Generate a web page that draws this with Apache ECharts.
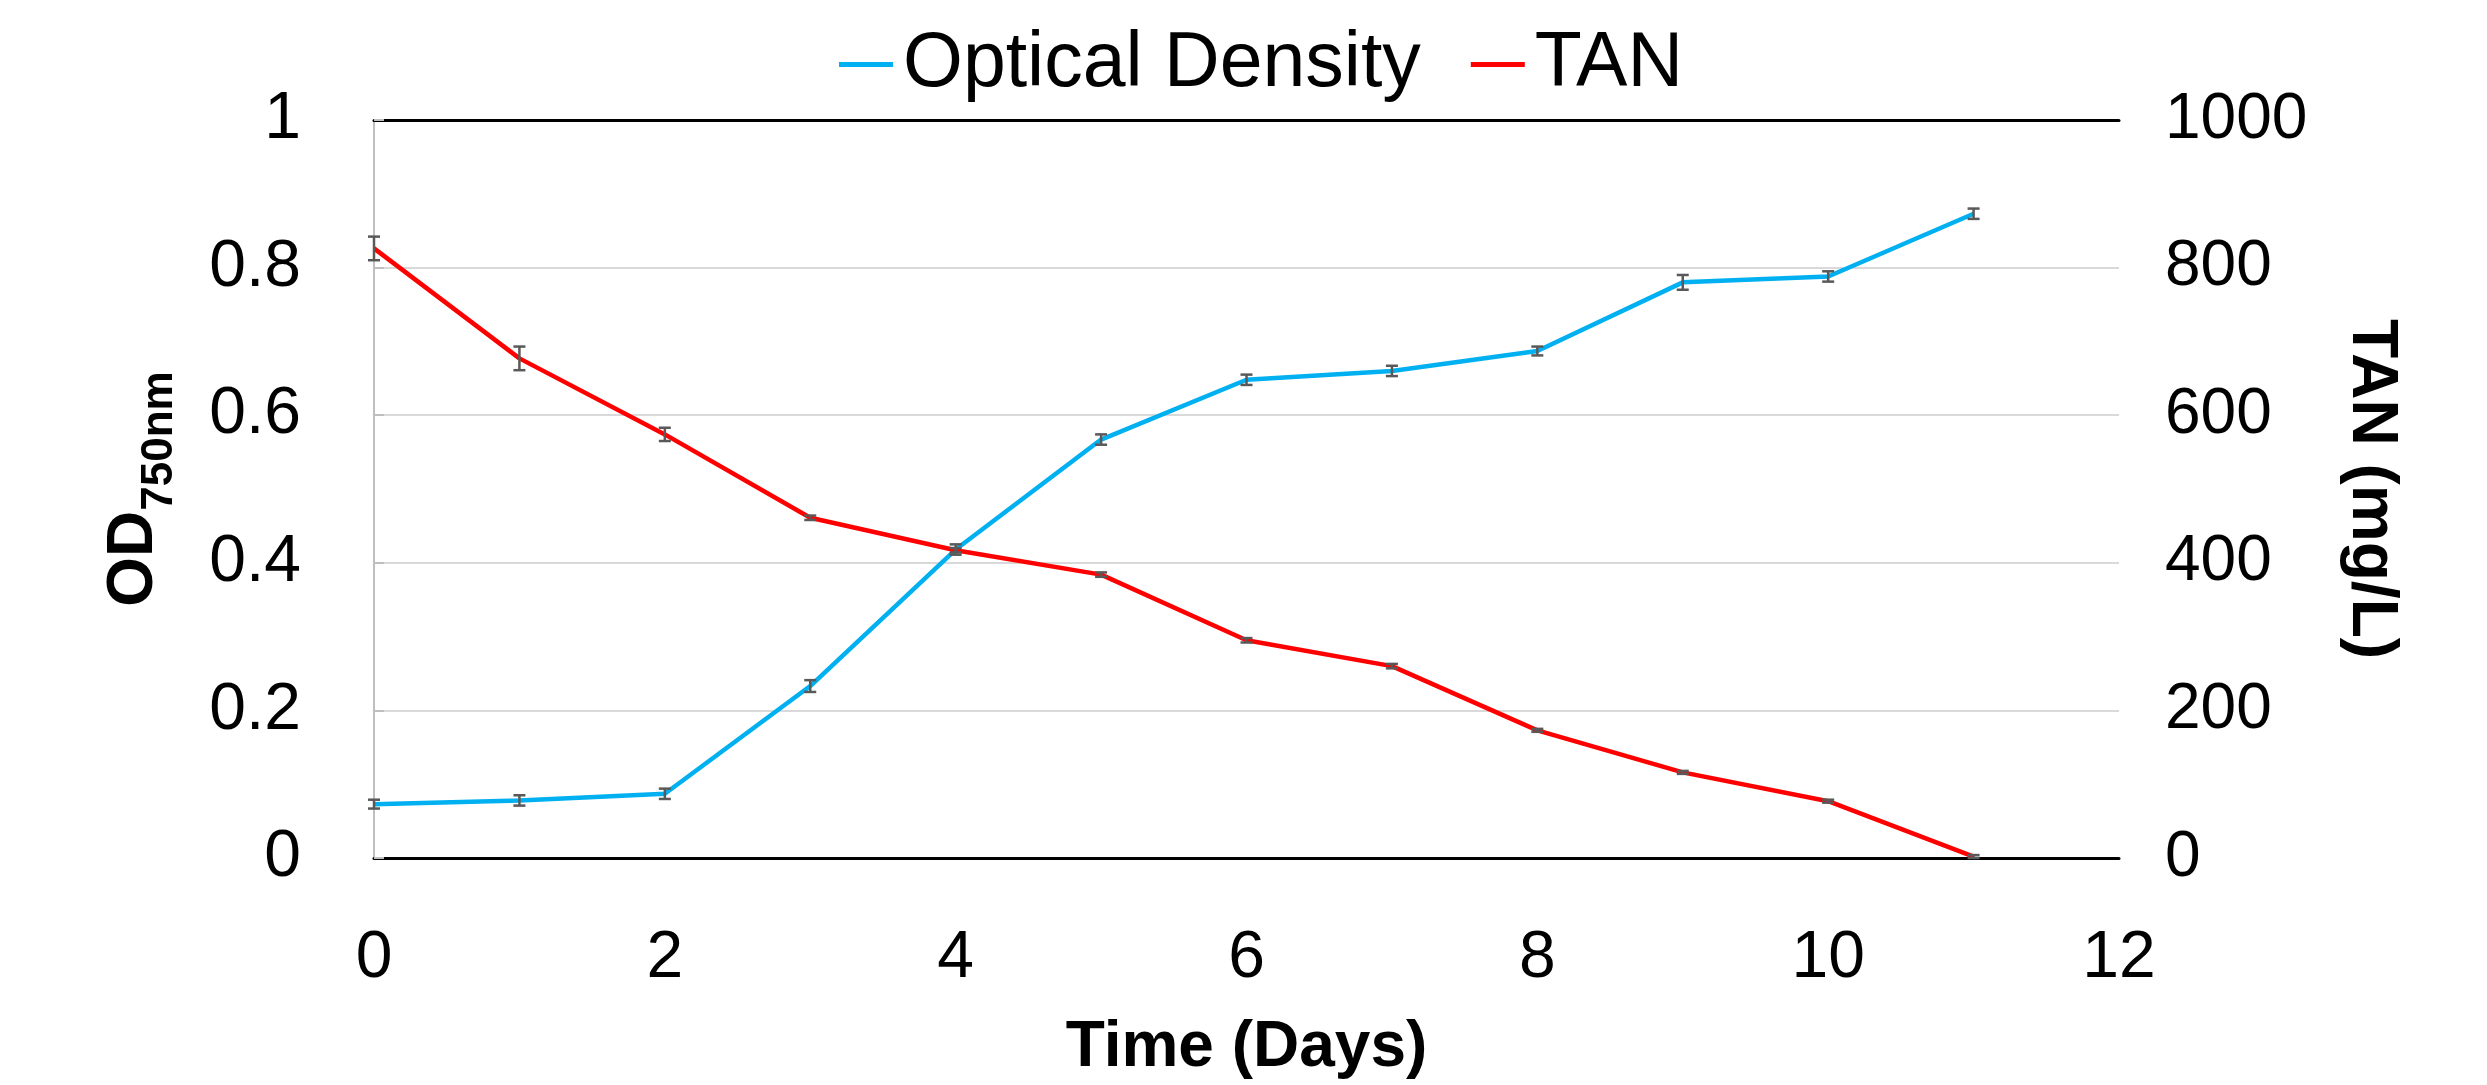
<!DOCTYPE html>
<html>
<head>
<meta charset="utf-8">
<script src="https://cdn.jsdelivr.net/npm/echarts@6/dist/echarts.min.js"></script>
<style>
  html, body { margin: 0; padding: 0; background: #fff; }
  #chart { width: 2487px; height: 1085px; }
</style>
</head>
<body>
<div id="chart"></div>
<script>
// Growth curve: optical density vs. total ammonia nitrogen over time

const days = [0, 1, 2, 3, 4, 5, 6, 7, 8, 9, 10, 11];
const odValues = [0.073, 0.078, 0.087, 0.233, 0.418, 0.567, 0.648, 0.660, 0.687, 0.780, 0.788, 0.873];
const odErrors = [0.006, 0.007, 0.007, 0.008, 0.007, 0.007, 0.007, 0.007, 0.006, 0.010, 0.007, 0.007];
const tanValues = [826, 677, 574, 461, 417, 384, 295, 260, 173, 116, 77, 2];
const tanErrors = [16, 16, 9, 3, 3, 3, 3, 3, 2, 2, 2, 2];
const xTicks = [0, 2, 4, 6, 8, 10, 12];
const odTicks = [0, 0.2, 0.4, 0.6, 0.8, 1];
const tanTicks = [0, 200, 400, 600, 800, 1000];

const FONT = '"Liberation Sans", Arial, sans-serif';
const chart = echarts.init(document.getElementById('chart'));

const odData = days.map((d, i) => [d, odValues[i]]);
const tanData = days.map((d, i) => [d, tanValues[i]]);
const odErrData = days.map((d, i) => [d, odValues[i] - odErrors[i], odValues[i] + odErrors[i]]);
const tanErrData = days.map((d, i) => [d, tanValues[i] - tanErrors[i], tanValues[i] + tanErrors[i]]);

// vertical whisker with caps
function renderError(params, api) {
  const x = api.value(0);
  const lo = api.coord([x, api.value(1)]);
  const hi = api.coord([x, api.value(2)]);
  const w = 6;
  const style = { stroke: '#595959', lineWidth: 2.5 };
  return {
    type: 'group',
    children: [
      { type: 'line', shape: { x1: lo[0], y1: lo[1], x2: hi[0], y2: hi[1] }, style },
      { type: 'line', shape: { x1: lo[0] - w, y1: lo[1], x2: lo[0] + w, y2: lo[1] }, style },
      { type: 'line', shape: { x1: hi[0] - w, y1: hi[1], x2: hi[0] + w, y2: hi[1] }, style }
    ]
  };
}

const option = {
  animation: false,
  backgroundColor: '#ffffff',
  textStyle: { fontFamily: FONT },
  legend: {
    top: 26,
    left: 839,
    padding: 0,
    data: [
      { name: 'Optical Density', icon: 'rect' },
      { name: 'TAN', icon: 'rect' }
    ],
    itemWidth: 54,
    itemHeight: 5,
    itemGap: 50,
    textStyle: { fontSize: 77, color: '#000', fontFamily: FONT, padding: [0, 0, 0, 5] }
  },
  grid: { left: 374, right: 368, top: 120, bottom: 225 },
  xAxis: [
    {
      type: 'value',
      min: xTicks[0],
      max: xTicks[xTicks.length - 1],
      interval: 2,
      name: 'Time (Days)',
      nameLocation: 'middle',
      nameGap: 158,
      nameTextStyle: { fontSize: 64, fontWeight: 'bold', color: '#000', fontFamily: FONT },
      axisLine: { show: true, lineStyle: { color: '#000', width: 3 } },
      axisTick: { show: false },
      splitLine: { show: false },
      axisLabel: { fontSize: 66, color: '#000', margin: 68, fontFamily: FONT }
    },
    {
      type: 'value',
      position: 'top',
      min: 0,
      max: 12,
      axisLine: { show: true, onZero: false, lineStyle: { color: '#000', width: 3 } },
      axisTick: { show: false },
      axisLabel: { show: false },
      splitLine: { show: false }
    }
  ],
  yAxis: [
    {
      type: 'value',
      min: odTicks[0],
      max: odTicks[odTicks.length - 1],
      interval: 0.2,
      name: '{a|OD}{b|750nm}',
      nameLocation: 'middle',
      nameGap: 192,
      nameTextStyle: {
        fontFamily: FONT,
        rich: {
          a: { fontSize: 64, fontWeight: 'bold', color: '#000', fontFamily: FONT, verticalAlign: 'top', lineHeight: 80 },
          b: { fontSize: 44, fontWeight: 'bold', color: '#000', fontFamily: FONT, verticalAlign: 'bottom', lineHeight: 80, padding: [22, 0, 0, 0] }
        }
      },
      axisLine: { show: true, lineStyle: { color: '#bfbfbf', width: 2 } },
      axisTick: { show: false },
      splitLine: { show: true, lineStyle: { color: '#d9d9d9', width: 2 } },
      axisLabel: { fontSize: 66, color: '#000', margin: 73, fontFamily: FONT }
    },
    {
      type: 'value',
      min: tanTicks[0],
      max: tanTicks[tanTicks.length - 1],
      interval: 200,
      name: 'TAN (mg/L)',
      nameLocation: 'middle',
      nameRotate: -90,
      nameGap: 220,
      nameTextStyle: { fontSize: 64, fontWeight: 'bold', color: '#000', fontFamily: FONT },
      axisLine: { show: true, lineStyle: { color: '#bfbfbf', width: 2 } },
      axisTick: { show: true, length: 10, lineStyle: { color: '#bfbfbf', width: 2 } },
      splitLine: { show: false },
      axisLabel: { fontSize: 64, color: '#000', margin: 46, fontFamily: FONT, formatter: v => String(v) }
    }
  ],
  series: [
    {
      name: 'Optical Density',
      type: 'line',
      xAxisIndex: 0,
      yAxisIndex: 0,
      data: odData,
      showSymbol: false,
      symbol: 'none',
      itemStyle: { color: '#00b0f0' },
      lineStyle: { color: '#00b0f0', width: 4.5 },
      z: 3
    },
    {
      name: 'TAN',
      type: 'line',
      xAxisIndex: 0,
      yAxisIndex: 1,
      data: tanData,
      showSymbol: false,
      symbol: 'none',
      itemStyle: { color: '#ff0000' },
      lineStyle: { color: '#ff0000', width: 4.5 },
      z: 3
    },
    {
      name: 'OD error',
      type: 'custom',
      xAxisIndex: 0,
      yAxisIndex: 0,
      renderItem: renderError,
      data: odErrData,
      z: 5
    },
    {
      name: 'TAN error',
      type: 'custom',
      xAxisIndex: 0,
      yAxisIndex: 1,
      renderItem: renderError,
      data: tanErrData,
      z: 5
    }
  ]
};

chart.setOption(option);
window.addEventListener('resize', () => chart.resize());
</script>
</body>
</html>
